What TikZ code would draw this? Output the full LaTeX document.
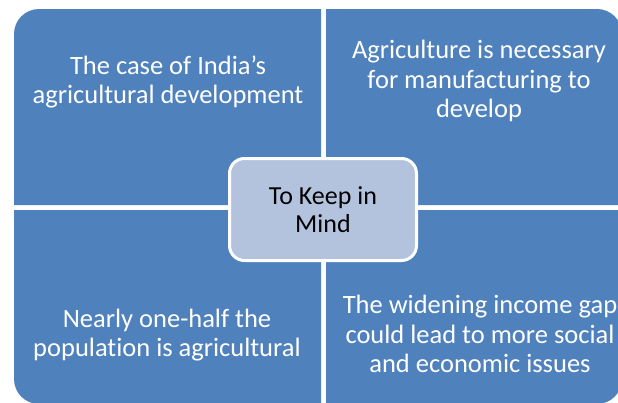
\documentclass[tikz,border=0pt]{standalone}
\usepackage{fontspec}
\setmainfont[Ligatures=NoCommon]{Carlito}
\usetikzlibrary{positioning}
\definecolor{quadblue}{RGB}{79,129,189}
\definecolor{keepblue}{RGB}{179,195,222}
\tikzset{
quad/.style = {fill=quadblue},
quadtext/.style = {text=white, align=center, font=\fontsize{26.5}{29.5}\selectfont},
keep/.style = {draw=white, line width=3pt, fill=keepblue, rectangle, rounded corners=15pt,
  minimum width=187pt, minimum height=102pt, align=center, text=black,
  font=\fontsize{26}{27.5}\selectfont}
}
\begin{document}
\begin{tikzpicture}[x=1pt, y=-1pt]
    \useasboundingbox (0,0) rectangle (618,402);
    \clip (0,0) rectangle (618,402);
    % the four quadrants, outer corner rounded
    \fill[quad] (321,205) -- (14,205) [rounded corners=25pt] -- (14,9) [sharp corners] -- (321,9) -- cycle;
    \fill[quad] (326,205) -- (326,9) [rounded corners=25pt] -- (622,9) [sharp corners] -- (622,205) -- cycle;
    \fill[quad] (321,210) -- (321,404) [rounded corners=25pt] -- (14,404) [sharp corners] -- (14,210) -- cycle;
    \fill[quad] (326,210) -- (622,210) [rounded corners=25pt] -- (622,404) [sharp corners] -- (326,404) -- cycle;
    \node [quadtext] (case) at (168,82) {The case of India’s\\agricultural development};
    \node [quadtext] (need) at (479,81) {Agriculture is necessary\\for manufacturing to\\develop};
    \node [quadtext] (half) at (167,335) {Nearly one-half the\\population is agricultural};
    \node [quadtext] (gap) at (480,334) {The widening income gap\\could lead to more social\\and economic issues};
    \node [keep] (mind) at (323,209.5) {To Keep in\\Mind};
\end{tikzpicture}
\end{document}
